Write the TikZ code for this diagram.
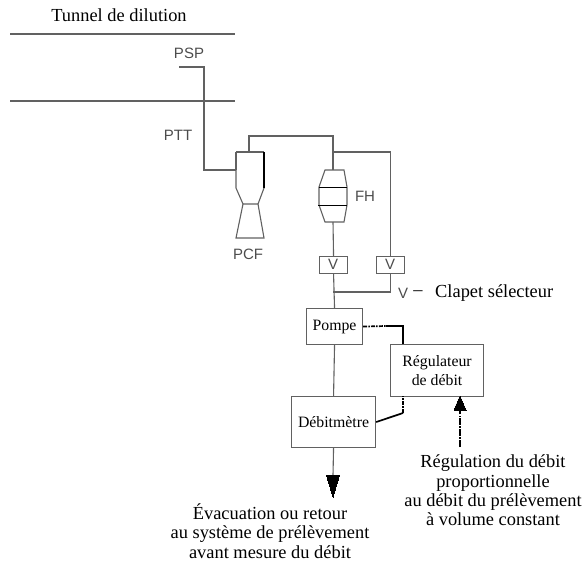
\documentclass[tikz,border=0pt]{standalone}
\usepackage{fontspec}
\setmainfont{Liberation Serif}
\newfontfamily\lbl{Liberation Sans}
\usetikzlibrary{arrows.meta}
\tikzset{
  line/.style={draw=black!62,line width=1.1pt},
  boxn/.style={draw=black!62,line width=1.1pt,inner sep=0pt,anchor=north west},
  serif/.style={font=\fontsize{15.8}{19}\selectfont,align=center,inner sep=0pt},
  big/.style={font=\fontsize{18.4}{19.3}\selectfont,align=center,inner sep=0pt},
  cad/.style={font=\lbl\fontsize{15}{17}\selectfont,text=black!70,inner sep=0pt},
  ctrl/.style={draw=black,line width=1.7pt},
  ctrld/.style={draw=black,line width=1.7pt,dash pattern=on 4pt off 1.2pt on 1.5pt off 1.2pt}
}
\begin{document}
\begin{tikzpicture}[x=1pt,y=-1pt]
\useasboundingbox (0,0) rectangle (585,560);
% tunnel
\node[big] (tun) at (119,15) {Tunnel de dilution};
\coordinate (t1a) at (10,34); \coordinate (t1b) at (235,34);
\coordinate (t2a) at (10,101); \coordinate (t2b) at (235,101);
\draw[line] (t1a) -- (t1b);
\draw[line] (t2a) -- (t2b);
\node[cad] (psp) at (189,53) {PSP};
\node[cad] (ptt) at (178,135) {PTT};
\node[cad] (pcf) at (248,254) {PCF};
\node[cad] (fh) at (365,196) {FH};
% probe
\coordinate (p0) at (179,67); \coordinate (pin) at (236,170);
\draw[line] (p0) -| (204,170) -- (pin);
% PCF
\draw[line] (236,152) -- (264,152);
\draw[line] (pin) -- (236,152);
\draw[line] (236,170) -- (236,188) -- (243,204) -- (258,204) -- (264,188);
\draw[draw=black,line width=1.6pt] (264,152) -- (264,188);
\draw[line] (243,204) -- (236,238) -- (264,238) -- (258,204);
\coordinate (pcftop) at (249,152);
% FH
\coordinate (fhtop) at (333,170); \coordinate (fhbot) at (333,222);
\draw[line] (fhtop) -- (325,170) -- (319,187) -- (319,205) -- (325,222) -- (344,222) -- (347,205) -- (347,187) -- (344,170) -- cycle;
\draw[draw=black,line width=0.9pt] (319,187) -- (347,187);
\draw[draw=black,line width=0.9pt] (318,205) -- (347,205);
% valves
\node[boxn,minimum width=28pt,minimum height=17pt] (v1) at (319,256) {};
\node[boxn,minimum width=28pt,minimum height=17pt] (v2) at (376,256) {};
\node[cad] (v1t) at (333,264) {V};
\node[cad] (v2t) at (390,264) {V};
\draw[line] (pcftop) -- (249,136) -| (fhtop);
\draw[line] (333,152) -| (v2.north);
\draw[line] (fhbot) -- (v1.north);
\coordinate (j) at (333,292);
\draw[line] (v2.south) |- (j);
% boxes
\node[boxn,serif,minimum width=56pt,minimum height=36pt] (pompe) at (306,308) {Pompe};
\node[boxn,serif,minimum width=84pt,minimum height=51pt] (deb) at (291,396) {Débitmètre};
\node[boxn,serif,minimum width=93pt,minimum height=52pt] (reg) at (390,344) {Régulateur\\de débit};
\draw[line] (v1.south) -- (pompe.north);
\draw[line] (pompe.south) -- (deb.north);
\coordinate (out) at (333,497);
\draw[line] (deb.south) -- (333,475);
\draw[draw=black,fill=black,line width=0pt] (326.5,475) -- (339.5,475) -- (out) -- cycle;
% control
\coordinate (ra) at (403,344); \coordinate (rb) at (403,396);
\coordinate (pm) at (386,326); \coordinate (dm) at (403,413);
\draw[ctrld] (pompe.east) -- (pm);
\draw[ctrl] (pm) -| (ra);
\draw[ctrl] (deb.east) -- (dm);
\draw[ctrld] (dm) -- (rb);
\coordinate (sig) at (460,447);
\draw[ctrld,line width=1.3pt,dash pattern=on 7pt off 1.2pt on 1.5pt off 1.2pt] (sig) -- (460,410);
\draw[draw=black,fill=black,line width=0pt] (454,410) -- (466,410) -- (460,396) -- cycle;
% labels
\node[cad] (vv) at (403,293) {V};
\node[big,anchor=west] (vc) at (435,293) {Clapet sélecteur};
\node[big,anchor=center] (vd) at (418,293) {–};
\node[big,anchor=south] (rl) at (493,526) {Régulation du débit\\proportionnelle\\au débit du prélèvement\\à volume constant};
\node[big,anchor=south] (el) at (270,558.5) {Évacuation ou retour\\au système de prélèvement\\avant mesure du débit};
\end{tikzpicture}
\end{document}
